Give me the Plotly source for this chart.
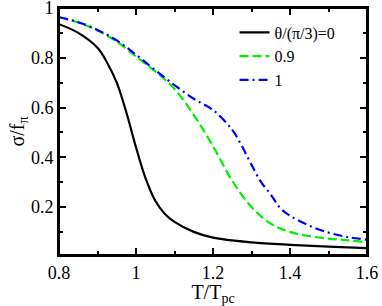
import plotly.graph_objects as go

T0 = [0.8, 0.85, 0.9, 0.925, 0.95, 0.975, 1.0, 1.025, 1.05, 1.075, 1.1, 1.15, 1.2, 1.3, 1.4, 1.5, 1.6]
S0 = [0.935, 0.9, 0.84, 0.78, 0.70, 0.58, 0.44, 0.315, 0.225, 0.172, 0.14, 0.1, 0.077, 0.058, 0.048, 0.041, 0.035]

T09 = [0.8, 0.85, 0.9, 0.95, 1.0, 1.05, 1.1, 1.15, 1.2, 1.25, 1.3, 1.35, 1.4, 1.45, 1.5, 1.55, 1.6]
S09 = [0.963, 0.942, 0.91, 0.865, 0.805, 0.745, 0.675, 0.57, 0.445, 0.305, 0.2, 0.133, 0.1, 0.083, 0.073, 0.066, 0.059]

T1 = [0.8, 0.85, 0.9, 0.95, 1.0, 1.05, 1.1, 1.15, 1.2, 1.25, 1.275, 1.3, 1.325, 1.35, 1.375, 1.4, 1.45, 1.5, 1.55, 1.6]
S1 = [0.963, 0.943, 0.912, 0.87, 0.812, 0.75, 0.69, 0.635, 0.59, 0.51, 0.445, 0.37, 0.30, 0.25, 0.195, 0.165, 0.125, 0.097, 0.079, 0.069]

names = ["θ/(π/3)=0", "0.9", "1"]

xticks = [0.8, 1.0, 1.2, 1.4, 1.6]
xticklabels = ["0.8", "1", "1.2", "1.4", "1.6"]
xminor = [0.9, 1.1, 1.3, 1.5]
yticks = [0.2, 0.4, 0.6, 0.8, 1.0]
yticklabels = ["0.2", "0.4", "0.6", "0.8", "1"]
yminor = [0.1, 0.3, 0.5, 0.7, 0.9]

XR = [0.8, 1.6]
YR = [0.007, 1.0]

fig = go.Figure()
fig.add_trace(go.Scatter(x=T0, y=S0, mode="lines", name=names[0],
                         line=dict(color="black", width=2.2, shape="spline")))
fig.add_trace(go.Scatter(x=T09, y=S09, mode="lines", name=names[1],
                         line=dict(color="#00ee00", width=2.2, dash="9px,4px", shape="spline")))
fig.add_trace(go.Scatter(x=T1, y=S1, mode="lines", name=names[2],
                         line=dict(color="#0000ff", width=2.2, dash="9px,4px,2px,4px", shape="spline")))

font = "Times New Roman, Liberation Serif, serif"
tickfont = dict(family=font, size=18, color="black")
titlefont = dict(family=font, size=20, color="black")

tick_style = dict(ticks="inside", ticklen=7, tickwidth=2, tickcolor="black",
                  showgrid=False, zeroline=False, showline=True, linecolor="black", linewidth=2,
                  ticklabeloverflow="allow",
                  minor=dict(ticks="inside", ticklen=4, tickwidth=1.5, tickcolor="black", showgrid=False))

fig.update_layout(
    xaxis=dict(range=XR, tickmode="array", tickvals=xticks, ticktext=xticklabels,
               tickfont=tickfont, title=dict(text="T/T<sub>pc</sub>", font=titlefont, standoff=0),
               **tick_style),
    yaxis=dict(range=YR, tickmode="array", tickvals=yticks, ticktext=yticklabels,
               tickfont=tickfont, title=dict(text="σ/f<sub>π</sub>", font=titlefont, standoff=0),
               **tick_style),
    xaxis2=dict(range=XR, overlaying="x", side="top", tickmode="array", tickvals=xticks,
                showticklabels=False, **tick_style),
    yaxis2=dict(range=YR, overlaying="y", side="right", tickmode="array", tickvals=yticks,
                showticklabels=False, **tick_style),
)
fig.layout.xaxis.minor.tickvals = xminor
fig.layout.yaxis.minor.tickvals = yminor
fig.layout.xaxis2.minor.tickvals = xminor
fig.layout.yaxis2.minor.tickvals = yminor

# invisible helper trace so the top/right axes are drawn
fig.add_trace(go.Scatter(x=[XR[0]], y=[YR[0]], xaxis="x2", yaxis="y2", mode="markers",
                         marker=dict(opacity=0), showlegend=False, hoverinfo="skip"))

fig.add_shape(type="rect", xref="paper", yref="paper", x0=0, x1=1, y0=0, y1=1,
              line=dict(color="black", width=2), fillcolor="rgba(0,0,0,0)", layer="above")

fig.update_layout(
    width=382, height=306,
    font=dict(family=font, color="black"),
    margin=dict(l=59, r=15, t=8, b=51, autoexpand=False),
    plot_bgcolor="white", paper_bgcolor="white",
    legend=dict(x=0.57, y=0.97, xanchor="left", yanchor="top",
                font=dict(family=font, size=16, color="black"),
                bgcolor="rgba(0,0,0,0)", borderwidth=0,
                tracegroupgap=0, itemwidth=30),
    showlegend=True,
)

fig.write_html("out.html", config={"displayModeBar": False},
               post_script="document.body.style.margin='0px';")
